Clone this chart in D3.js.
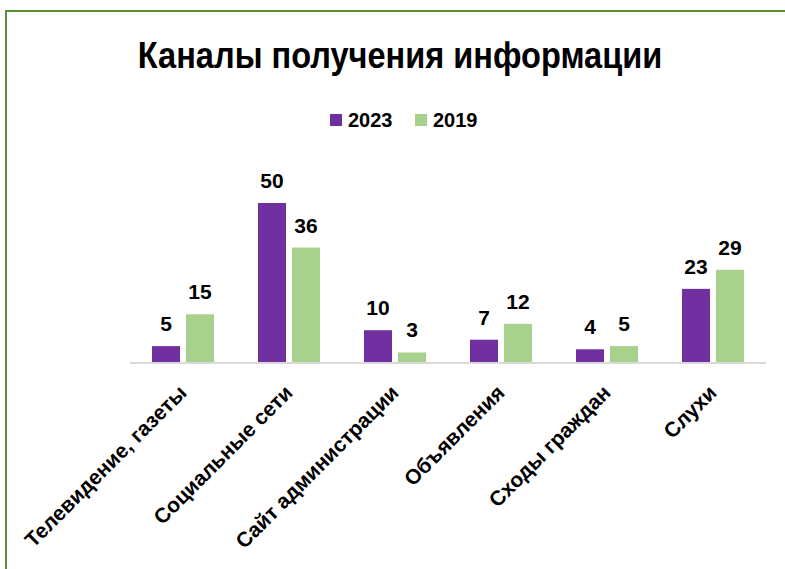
<!DOCTYPE html>
<html>
<head>
<meta charset="utf-8">
<script src="https://cdnjs.cloudflare.com/ajax/libs/d3/7.8.5/d3.min.js"></script>
<style>
  body { margin: 0; background: #fff; }
  svg { display: block; }
  text { font-family: "Liberation Sans Narrow", "Arial Narrow", "Liberation Sans", sans-serif; font-weight: bold; fill: #000; }
</style>
</head>
<body>
<div id="chart"></div>
<script>
var categories = ["Телевидение, газеты", "Социальные сети", "Сайт администрации", "Объявления", "Сходы граждан", "Слухи"];
var seriesNames = ["2023", "2019"];
var values2023 = [5, 50, 10, 7, 4, 23];
var values2019 = [15, 36, 3, 12, 5, 29];
var colors = ["#7030A0", "#A9D18E"];

var width = 785, height = 569;
var svg = d3.select("#chart").append("svg")
  .attr("width", width)
  .attr("height", height);

// frame (only top and left visible)
svg.append("path")
  .attr("d", "M6,569 V11 H785")
  .attr("fill", "none")
  .attr("stroke", "#5B8C3A")
  .attr("stroke-width", 2);

// title, squeezed to look like a narrow font
svg.append("text")
  .attr("transform", "translate(400,68) scale(0.88,1)")
  .attr("text-anchor", "middle")
  .style("font-size", "37px")
  .text("Каналы получения информации");

// legend
var legend = svg.append("g");
var legendX = [330, 415];
seriesNames.forEach(function (name, i) {
  legend.append("rect")
    .attr("x", legendX[i])
    .attr("y", 114)
    .attr("width", 12)
    .attr("height", 12)
    .attr("fill", colors[i]);
  legend.append("text")
    .attr("x", legendX[i] + 18)
    .attr("y", 127)
    .style("font-size", "20px")
    .text(name);
});

var x0 = d3.scaleBand().domain(categories).range([130, 766]).paddingInner(0).paddingOuter(0);
var y = d3.scaleLinear().domain([0, 50]).range([362, 203]);

var data = categories.map(function (c, i) {
  return { cat: c, vals: [values2023[i], values2019[i]] };
});

var barW = 28, gap = 6;

var groups = svg.selectAll(".grp")
  .data(data)
  .enter()
  .append("g")
  .attr("class", "grp")
  .attr("transform", function (d) {
    return "translate(" + (x0(d.cat) + x0.bandwidth() / 2) + ",0)";
  });

groups.each(function (d) {
  var g = d3.select(this);
  d.vals.forEach(function (v, i) {
    var bx = i === 0 ? -barW - gap / 2 : gap / 2;
    g.append("rect")
      .attr("x", bx)
      .attr("y", y(v))
      .attr("width", barW)
      .attr("height", y(0) - y(v))
      .attr("fill", colors[i]);
    g.append("text")
      .attr("x", bx + barW / 2)
      .attr("y", y(v) - 15)
      .attr("text-anchor", "middle")
      .style("font-size", "21px")
      .text(v);
  });
});

// baseline
svg.append("line")
  .attr("x1", 130)
  .attr("x2", 766)
  .attr("y1", y(0) + 1)
  .attr("y2", y(0) + 1)
  .attr("stroke", "#D9D9D9")
  .attr("stroke-width", 2);

// category labels
svg.selectAll(".cat")
  .data(categories)
  .enter()
  .append("text")
  .attr("class", "cat")
  .attr("text-anchor", "end")
  .style("font-size", "21px")
  .attr("transform", function (d) {
    return "translate(" + (x0(d) + x0.bandwidth() / 2 + 5) + ",394) rotate(-45)";
  })
  .text(function (d) { return d; });
</script>
</body>
</html>
